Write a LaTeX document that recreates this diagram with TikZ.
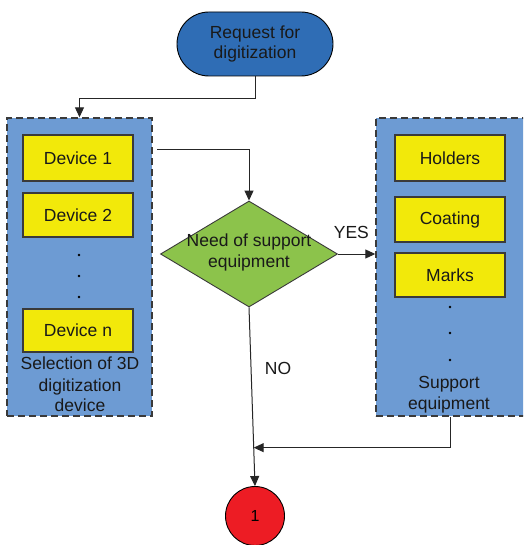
\documentclass[tikz,border=0pt]{standalone}
\usepackage{fontspec}
\setmainfont{Liberation Sans}
\usetikzlibrary{arrows.meta,shapes.geometric,calc}
\definecolor{termblue}{HTML}{2F6DB5}
\definecolor{contblue}{HTML}{6D9BD3}
\definecolor{boxyellow}{HTML}{F2E90A}
\definecolor{diagreen}{HTML}{8CC34B}
\definecolor{circred}{HTML}{ED1C24}
\definecolor{edgegray}{HTML}{3A3A3A}
\tikzset{
  txt/.style={font=\fontsize{17.5}{20.5}\selectfont, text=black!90, align=center},
  term/.style={txt, draw=black, line width=0.9pt, fill=termblue, rounded corners=32pt,
    minimum width=156pt, minimum height=64pt, inner sep=0pt},
  container/.style={draw=edgegray, line width=1.4pt, dash pattern=on 7pt off 4pt, fill=contblue,
    inner sep=0pt},
  itembox/.style={txt, draw=edgegray, line width=1.1pt, fill=boxyellow,
    minimum width=110pt, inner sep=0pt},
  decision/.style={diamond, draw=edgegray, line width=0.9pt, fill=diagreen,
    minimum width=177pt, minimum height=106pt, inner sep=0pt},
  endcirc/.style={circle, draw=black, line width=0.9pt, fill=circred, minimum size=59pt,
    inner sep=0pt, font=\fontsize{16}{19}\selectfont},
  conn/.style={draw=black!85, line width=1pt, -{Triangle[length=10pt,width=9pt]}},
  lbl/.style={font=\fontsize{17.5}{20.5}\selectfont, text=black!90}
}
\begin{document}
\begin{tikzpicture}[x=1pt,y=-1pt]
\useasboundingbox (0,0) rectangle (523,545);
\clip (0,0) rectangle (523,545);
\fill[white] (0,0) rectangle (523,545);

% containers
\node[container, minimum width=145pt, minimum height=298pt] (L) at (79.5,267) {};
\node[container, minimum width=164pt, minimum height=298pt] (R) at (458,267) {};

% start terminal
\node[term] (T) at (255,44) {Request for\\digitization};

% left items
\node[itembox, minimum height=46pt] (d1) at (78,158) {Device 1};
\node[itembox, minimum height=44pt] (d2) at (78,215) {Device 2};
\node[itembox, minimum height=43pt] (dn) at (78,330.5) {Device n};
\fill (79,255) circle[radius=1.4pt];
\fill (79,276) circle[radius=1.4pt];
\fill (79,297) circle[radius=1.4pt];
\node[txt] (Llab) at (80,384.5) {Selection of 3D\\[1pt]digitization\\device};

% right items
\node[itembox, minimum height=46pt] (h) at (450,158) {Holders};
\node[itembox, minimum height=45pt] (co) at (450,219.5) {Coating};
\node[itembox, minimum height=44pt] (mk) at (450,275) {Marks};
\fill (450,307) circle[radius=1.4pt];
\fill (450,333) circle[radius=1.4pt];
\fill (450,360) circle[radius=1.4pt];
\node[txt] (Rlab) at (449,394.5) {Support\\equipment};

% decision
\node[decision] (D) at (249,254) {};
\node[txt] (Dlab) at (249,252.5) {Need of support\\equipment};

% end circle
\node[endcirc] (C) at (255,516) {1};

% connectors
\draw[conn] (T.south) -- ++(0,22) -| (L.north);
\coordinate (s1) at (157,150);
\draw[conn] (s1) -| (D.north);
\draw[conn] (D.east) -- (R.west |- D.east) node[lbl, pos=0.36, above=11pt] (yes) {YES};
\draw[conn] (D.south) -- (C.north);
\coordinate (m) at ($(D.south)!0.785!(C.north)$);
\draw[conn] (h.center |- R.south) |- (m);
\node[lbl] (no) at (278,368) {NO};
\end{tikzpicture}
\end{document}
